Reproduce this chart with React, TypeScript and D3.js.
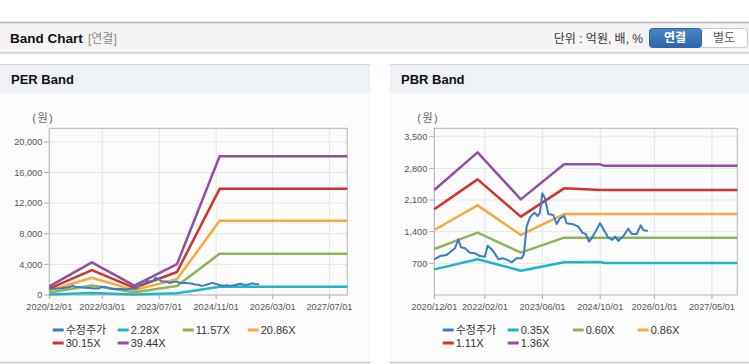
import React from 'react';
import * as d3 from 'd3';

const W = 749;
const H = 364;
const FONT = "'Liberation Sans', 'Noto Sans CJK KR', sans-serif";

// 수정주가 (same price series in both panels)
const priceDates = [
  '2020-12-01', '2021-01-18', '2021-03-15', '2021-05-24', '2021-06-21', '2021-07-14',
  '2021-08-17', '2021-09-28', '2021-11-09', '2021-12-21', '2022-02-01', '2022-02-24',
  '2022-03-30', '2022-04-21', '2022-05-25', '2022-07-06', '2022-08-12', '2022-09-14',
  '2022-10-27', '2022-12-08', '2022-12-27', '2023-01-19', '2023-02-16', '2023-03-25',
  '2023-04-22', '2023-05-11', '2023-05-31', '2023-06-23', '2023-07-21', '2023-09-01',
  '2023-09-29', '2023-10-27', '2023-12-03', '2023-12-22', '2024-02-17', '2024-03-30',
  '2024-05-03', '2024-05-31', '2024-06-28', '2024-07-20', '2024-08-17', '2024-09-29',
  '2024-11-04', '2024-12-08', '2025-01-11', '2025-02-02', '2025-03-02', '2025-04-14',
  '2025-05-26', '2025-06-23', '2025-08-04', '2025-09-07', '2025-09-29', '2025-11-05',
];
const priceValues = [
  790, 860, 885, 1032, 1233, 1055,
  1032, 936, 921, 862, 848, 1091,
  1010, 936, 789, 811, 774, 722,
  811, 811, 907, 1511, 1717, 1821,
  1747, 1821, 2248, 2137, 1791, 1769,
  1570, 1695, 1747, 1585, 1563, 1511,
  1378, 1349, 1179, 1253, 1378, 1585,
  1423, 1268, 1216, 1290, 1194, 1305,
  1467, 1349, 1349, 1540, 1437, 1415,
];

// PER band
const perBandDates = ['2020-12-01', '2021-12-01', '2022-12-01', '2023-12-01', '2024-12-01', '2027-12-01'];
const per228 = [64, 246, 70, 225, 1087, 1087];
const per1157 = [325, 1250, 355, 1170, 5390, 5390];
const per2086 = [585, 2250, 640, 2050, 9690, 9690];
const per3015 = [845, 3260, 930, 3000, 13870, 13870];
const per3944 = [1120, 4260, 1217, 4030, 18130, 18130];
const perTicks = [0, 4000, 8000, 12000, 16000, 20000];
const perDateTicks = ['2020-12-01', '2022-03-01', '2023-07-01', '2024-11-01', '2026-03-01', '2027-07-01'];

// PBR band
const pbrBandDates = ['2020-12-01', '2021-12-01', '2022-12-01', '2023-12-01', '2024-10-01', '2024-11-01', '2027-12-01'];
const pbr035 = [567, 789, 538, 722, 730, 707, 707];
const pbr060 = [1017, 1378, 936, 1268, 1268, 1268, 1268];
const pbr086 = [1437, 1982, 1327, 1791, 1791, 1791, 1791];
const pbr111 = [1894, 2557, 1732, 2358, 2321, 2321, 2321];
const pbr136 = [2322, 3154, 2115, 2889, 2889, 2860, 2860];
const pbrTicks = [700, 1400, 2100, 2800, 3500];
const pbrDateTicks = ['2020-12-01', '2022-02-01', '2023-06-01', '2024-10-01', '2026-01-01', '2027-05-01'];

const C_PRICE = '#3a7cc6';
const C_TEAL = '#1fb5c8';
const C_GREEN = '#8db45a';
const C_ORANGE = '#f4aa3c';
const C_RED = '#d1322d';
const C_PURPLE = '#8e509f';

const parse = d3.timeParse('%Y-%m-%d');

interface Band { name: string; color: string; values: number[] }

interface PanelProps {
  px: number; pw: number; title: string;
  x0: number; x1: number; yMax: number;
  yTicks: number[]; dateTicks: string[];
  bandDates: string[]; bands: Band[]; legendX: number;
}

const PLOT_TOP = 128.3;
const PLOT_BOTTOM = 295;

const BandPanel: React.FC<PanelProps> = ({ px, pw, title, x0, x1, yMax, yTicks, dateTicks, bandDates, bands, legendX }) => {
  const x = d3.scaleTime()
    .domain([parse('2020-12-01')!, parse('2027-12-01')!])
    .range([x0, x1]);
  const y = d3.scaleLinear().domain([0, yMax]).range([PLOT_BOTTOM, PLOT_TOP]);
  const line = d3.line<[Date, number]>().x(d => x(d[0])).y(d => y(d[1]));

  const bandPts = (vals: number[]) => bandDates.map((d, i) => [parse(d)!, vals[i]] as [Date, number]);
  const pricePts = priceDates.map((d, i) => [parse(d)!, priceValues[i]] as [Date, number]);

  const legend = [{ name: '수정주가', color: C_PRICE }, ...bands];

  return (
    <g>
      <rect x={px} y={64} width={pw} height={29} fill="#eef1f6" />
      <line x1={px} x2={px + pw} y1={64.5} y2={64.5} stroke="#d6d6d6" />
      <rect x={px} y={93} width={pw} height={269} fill="#fcfcfc" />
      <line x1={px} x2={px + pw} y1={362.5} y2={362.5} stroke="#c8c8c8" strokeWidth={1.5} />
      <text x={px + 11} y={84} fontFamily={FONT} fontSize={13} fontWeight="bold" fill="#111">{title}</text>

      <text x={x0 - 6} y={122} textAnchor="middle" fontFamily={FONT} fontSize={11} letterSpacing={1.5} fill="#666">(원)</text>

      {yTicks.map(t => (
        <g key={t}>
          <line x1={x0} x2={x1} y1={y(t)} y2={y(t)} stroke="#e6e6e6" />
          <line x1={x0 - 5} x2={x0} y1={y(t)} y2={y(t)} stroke="#aaa" />
          <text x={x0 - 7} y={y(t) + 3.2} textAnchor="end" fontFamily={FONT} fontSize={9.2} fill="#555">
            {d3.format(',')(t)}
          </text>
        </g>
      ))}
      {dateTicks.map(t => {
        const xx = x(parse(t)!);
        return (
          <g key={t}>
            <line x1={xx} x2={xx} y1={PLOT_TOP} y2={PLOT_BOTTOM} stroke="#e6e6e6" />
            <line x1={xx} x2={xx} y1={PLOT_BOTTOM} y2={PLOT_BOTTOM + 4} stroke="#aaa" />
            <text x={xx} y={PLOT_BOTTOM + 15} textAnchor="middle" fontFamily={FONT} fontSize={9.2} fill="#555">
              {t.replace(/-/g, '/')}
            </text>
          </g>
        );
      })}
      <rect x={x0} y={PLOT_TOP} width={x1 - x0} height={PLOT_BOTTOM - PLOT_TOP} fill="none" stroke="#b4b4b4" />

      {bands.map(b => (
        <path key={b.name} d={line(bandPts(b.values)) || ''} fill="none" stroke={b.color} strokeWidth={2.5} strokeLinejoin="round" />
      ))}
      <path d={line(pricePts) || ''} fill="none" stroke={C_PRICE} strokeWidth={2} strokeLinejoin="round" />

      {legend.map((s, i) => {
        const lx = legendX + (i % 4) * 65;
        const ly = 330 + Math.floor(i / 4) * 13;
        return (
          <g key={s.name}>
            <line x1={lx} x2={lx + 11} y1={ly} y2={ly} stroke={s.color} strokeWidth={3} />
            <text x={lx + 13} y={ly + 4} fontFamily={FONT} fontSize={11} fill="#333">{s.name}</text>
          </g>
        );
      })}
    </g>
  );
};

const App: React.FC = () => {
  const perBands: Band[] = [
    { name: '2.28X', color: C_TEAL, values: per228 },
    { name: '11.57X', color: C_GREEN, values: per1157 },
    { name: '20.86X', color: C_ORANGE, values: per2086 },
    { name: '30.15X', color: C_RED, values: per3015 },
    { name: '39.44X', color: C_PURPLE, values: per3944 },
  ];
  const pbrBands: Band[] = [
    { name: '0.35X', color: C_TEAL, values: pbr035 },
    { name: '0.60X', color: C_GREEN, values: pbr060 },
    { name: '0.86X', color: C_ORANGE, values: pbr086 },
    { name: '1.11X', color: C_RED, values: pbr111 },
    { name: '1.36X', color: C_PURPLE, values: pbr136 },
  ];

  return (
    <div style={{ position: 'absolute', left: 0, top: 0 }}>
      <svg width={W} height={H} style={{ display: 'block' }}>
        <rect width={W} height={H} fill="#fff" />
        {/* top header bar */}
        <rect x={0} y={22} width={W} height={31} fill="#f4f4f4" />
        <line x1={0} x2={W} y1={22.5} y2={22.5} stroke="#b8b8b8" strokeWidth={1.5} />
        <line x1={0} x2={W} y1={52.5} y2={52.5} stroke="#cfcfcf" />
        <line x1={0} x2={W} y1={53.5} y2={53.5} stroke="#e4e4e4" />
        <line x1={0} x2={W} y1={54.5} y2={54.5} stroke="#f2f2f2" />
        <text x={10} y={43} fontFamily={FONT} fontSize={13.5} fontWeight="bold" fill="#111">Band Chart</text>
        <text x={88} y={43} fontFamily={FONT} fontSize={12} fill="#8a8a8a">[연결]</text>
        <text x={643} y={43} textAnchor="end" fontFamily={FONT} fontSize={12} fill="#333">단위 : 억원, 배, %</text>
        <defs>
          <linearGradient id="btnBlue" x1="0" x2="0" y1="0" y2="1">
            <stop offset="0" stopColor="#4a86c8" />
            <stop offset="1" stopColor="#2c66a8" />
          </linearGradient>
        </defs>
        <rect x={700} y={28.5} width={47.5} height={19} rx={3} fill="#fff" stroke="#c9c9c9" />
        <rect x={649.5} y={28.5} width={52} height={19} rx={3} fill="url(#btnBlue)" stroke="#2d65a5" />
        <text x={675} y={42} textAnchor="middle" fontFamily={FONT} fontSize={12} fontWeight="bold" fill="#fff">연결</text>
        <text x={724} y={42} textAnchor="middle" fontFamily={FONT} fontSize={12} fill="#555">별도</text>

        <BandPanel px={0} pw={370} title="PER Band" x0={49.3} x1={347.3} yMax={21780}
          yTicks={perTicks} dateTicks={perDateTicks} bandDates={perBandDates} bands={perBands} legendX={52.7} />
        <BandPanel px={390} pw={359} title="PBR Band" x0={434.3} x1={737.3} yMax={3686}
          yTicks={pbrTicks} dateTicks={pbrDateTicks} bandDates={pbrBandDates} bands={pbrBands} legendX={442.7} />
      </svg>
    </div>
  );
};

export default App;
